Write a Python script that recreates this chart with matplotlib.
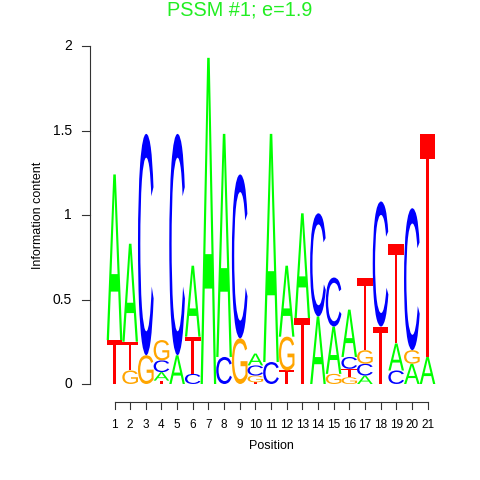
import matplotlib
matplotlib.use("Agg")
import matplotlib.pyplot as plt
from matplotlib.textpath import TextPath
from matplotlib.font_manager import FontProperties
from matplotlib.patches import PathPatch
from matplotlib.transforms import Affine2D

positions = list(range(1, 22))
# information content (bits) per letter per position
A = [0.98, 0.58, 0, 0.05, 0.17, 0.42, 1.93, 1.32, 0, 0.07, 1.35, 0.42, 0.62, 0.40, 0.28, 0.28, 0.05, 0, 0.16, 0.12, 0.16]
C = [0, 0, 1.31, 0.07, 1.31, 0.06, 0, 0.16, 0.97, 0.06, 0.13, 0, 0, 0.61, 0.29, 0.07, 0.07, 0.74, 0.08, 0.84, 0]
G = [0, 0.08, 0.17, 0.12, 0, 0, 0, 0, 0.27, 0.04, 0, 0.20, 0, 0, 0.06, 0.04, 0.08, 0, 0, 0.08, 0]
T = [0.26, 0.17, 0, 0.02, 0, 0.22, 0, 0, 0, 0.01, 0, 0.08, 0.39, 0, 0, 0.05, 0.43, 0.34, 0.59, 0, 1.32]
# stacking order, bottom to top
order = ["TA", "GTA", "GC", "TACG", "AC", "CTA", "A", "CA", "GC", "TGCA", "CA", "TGA",
         "TA", "AC", "GAC", "GTCA", "ACGT", "TC", "CAT", "AGC", "AT"]
colors = {"A": "#00FF00", "C": "#0000FF", "G": "#FFA500", "T": "#FF0000"}
title = "PSSM #1; e=1.9"
yticks = [0, 0.5, 1, 1.5, 2]
yticklabels = ["0", "0.5", "1", "1.5", "2"]

fig = plt.figure(figsize=(4.8, 4.8), dpi=100)
ax = fig.add_axes([90 / 480, 60 / 480, 360 / 480, 380 / 480])
x_left = 1 - (114.5 - 90) / 15.65
x_right = 21 + (450 - 427.5) / 15.65
ax.set_xlim(x_left, x_right)
ax.set_ylim(-36 / 169.0, 344 / 169.0)
ax.axis("off")

fp = FontProperties(family="Liberation Sans", weight="normal")
heights = {"A": A, "C": C, "G": G, "T": T}
w = 1.0
for i, p in enumerate(positions):
    y0 = 0.0
    for letter in order[i]:
        h = heights[letter][i]
        if h <= 0:
            continue
        tp = TextPath((0, 0), letter, size=1, prop=fp)
        ext = tp.get_extents()
        tr = Affine2D().translate(-ext.x0, -ext.y0).scale(w / ext.width, h / ext.height).translate(p - w / 2, y0)
        path = tr.transform_path(tp)
        ax.add_patch(PathPatch(path, facecolor=colors[letter], edgecolor="none", lw=0))
        y0 += h

# y axis (R style)
xa = x_left
tick_len_x = 8 / 15.65
ax.plot([xa, xa], [0, 2], color="#333333", lw=0.8, clip_on=False)
for t, lab in zip(yticks, yticklabels):
    ax.plot([xa - tick_len_x, xa], [t, t], color="#333333", lw=0.8, clip_on=False)
    ax.text(xa - 18 / 15.65, t, lab, ha="right", va="center", fontsize=10, family="Liberation Sans")
ax.text(xa - 52 / 15.65, 1.0, "Information content", rotation=90, ha="center", va="center", fontsize=9, family="Liberation Sans")

# x axis
ya = -18 / 169.0
tick_len_y = 7 / 169.0
ax.plot([1, 21], [ya, ya], color="#333333", lw=0.8, clip_on=False)
for p in positions:
    ax.plot([p, p], [ya, ya - tick_len_y], color="#333333", lw=0.8, clip_on=False)
    ax.text(p, ya - 23 / 169.0, str(p), ha="center", va="center", fontsize=8.5, family="Liberation Sans")
ax.text(11, ya - 44 / 169.0, "Position", ha="center", va="center", fontsize=9, family="Liberation Sans")

fig.text(0.5, 1 - 10 / 480, title, ha="center", va="center", fontsize=14.3, color="#22EE22", family="Liberation Sans")

fig.savefig("out.png", dpi=100)
